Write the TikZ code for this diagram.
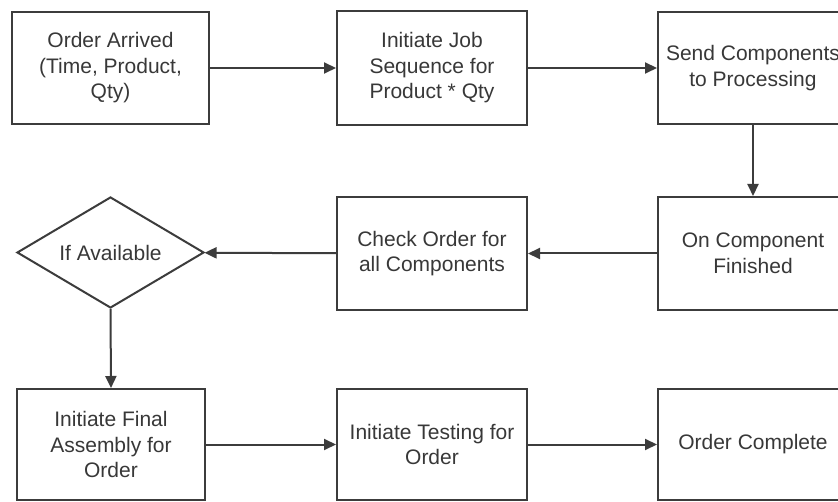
\documentclass[tikz,border=0pt]{standalone}
\usepackage{fontspec}
\setmainfont{Liberation Sans}
\usetikzlibrary{shapes.geometric,arrows.meta}
\definecolor{ink}{HTML}{3C3C3C}
\definecolor{txt}{HTML}{383838}
\tikzset{
  flowbox/.style={draw=ink, line width=2pt, rectangle, inner sep=0pt,
    minimum width=190pt, minimum height=113pt, align=center,
    text=txt, font=\fontsize{21}{25.5}\selectfont},
  decide/.style={draw=ink, line width=2pt, diamond, inner sep=0pt,
    shape aspect=1.68, minimum width=187pt, minimum height=111pt,
    text=txt, font=\fontsize{21}{25.5}\selectfont},
  flow/.style={draw=ink, line width=2pt, -{Triangle[length=12pt,width=11pt]}}
}
\begin{document}
\begin{tikzpicture}[x=1pt,y=-1pt]
\clip (0,0) rectangle (838,502);
\fill[white] (0,0) rectangle (838,502);

% top row
\node[flowbox, minimum width=197pt, minimum height=112pt] (arrived) at (110.5,68)
  {Order Arrived\\(Time, Product,\\Qty)};
\node[flowbox, minimum height=114pt] (jobseq) at (432,68)
  {Initiate Job\\Sequence for\\Product * Qty};
\node[flowbox, minimum height=112pt] (send) at (753,68)
  {Send Components\\to Processing};

% middle row
\node[decide] (avail) at (110.5,252.5) {If Available};
\node[flowbox] (check) at (432,253.5) {Check Order for\\all Components};
\node[flowbox] (finished) at (753,253.5) {On Component\\Finished};

% bottom row
\node[flowbox, minimum width=188pt, minimum height=111pt] (assembly) at (111,444.5)
  {Initiate Final\\Assembly for\\Order};
\node[flowbox, minimum height=111pt] (testing) at (432,444.5)
  {Initiate Testing for\\Order};
\node[flowbox, minimum height=111pt] (complete) at (753,444.5) {Order Complete};

% connectors
\draw[flow] (arrived) -- (jobseq);
\draw[flow] (jobseq) -- (send);
\draw[flow] (send) -- (finished);
\draw[flow] (finished) -- (check);
\draw[flow] (check) -- (avail);
\draw[flow] (avail.south) -- (assembly.north);
\draw[flow] (assembly) -- (testing);
\draw[flow] (testing) -- (complete);
\end{tikzpicture}
\end{document}
